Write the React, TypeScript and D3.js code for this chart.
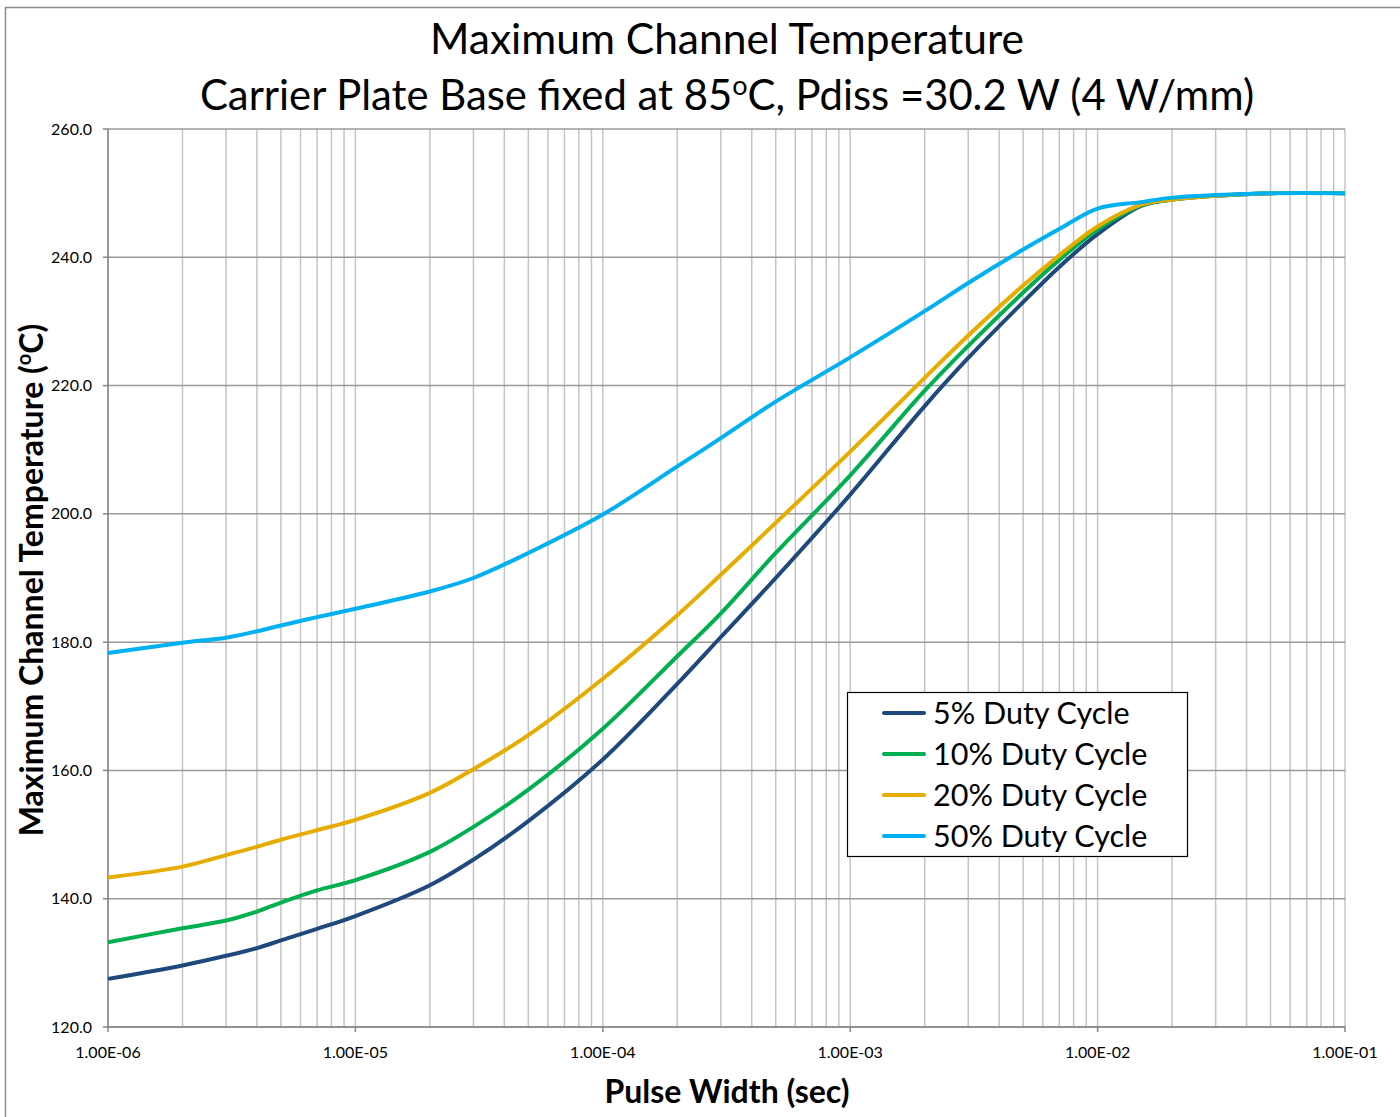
import React from "react";
import * as d3 from "d3";

const pulseWidths = [1e-6, 2e-6, 3e-6, 4e-6, 5e-6, 7e-6, 1e-5, 2e-5, 3e-5, 5e-5, 1e-4, 2e-4, 3e-4, 5e-4, 1e-3, 2e-3, 3e-3, 5e-3, 7e-3, 1e-2, 1.5e-2, 2e-2, 3e-2, 5e-2, 1e-1];

const duty5 = [127.5, 129.6, 131.1, 132.3, 133.5, 135.3, 137.3, 142.1, 146.1, 152.1, 161.7, 173.5, 180.8, 190.0, 203.0, 216.8, 224.3, 233.0, 238.5, 243.6, 248.0, 249.0, 249.6, 250.0, 250.0];
const duty10 = [133.2, 135.4, 136.6, 138.0, 139.4, 141.3, 142.9, 147.3, 151.2, 157.0, 166.5, 177.8, 184.5, 193.9, 206.0, 219.2, 226.2, 234.5, 239.6, 244.3, 248.1, 249.0, 249.6, 250.0, 250.0];
const duty20 = [143.3, 145.0, 146.8, 148.1, 149.2, 150.7, 152.3, 156.5, 160.2, 165.5, 174.3, 184.2, 190.5, 198.6, 209.7, 221.2, 227.8, 235.6, 240.3, 244.8, 248.2, 249.0, 249.6, 250.0, 250.0];
const duty50 = [178.3, 179.9, 180.7, 181.7, 182.6, 183.9, 185.2, 187.9, 190.0, 193.9, 199.9, 207.4, 211.8, 217.5, 224.4, 231.6, 236.0, 241.2, 244.4, 247.6, 248.6, 249.3, 249.7, 250.0, 250.0];

const seriesNames = ["5% Duty Cycle", "10% Duty Cycle", "20% Duty Cycle", "50% Duty Cycle"];
const seriesColors = ["#1F497D", "#00B050", "#E6AC00", "#00B0F0"];
const seriesValues = [duty5, duty10, duty20, duty50];

const yTicks = [120, 140, 160, 180, 200, 220, 240, 260];
const xTickLabels = ["1.00E-06", "1.00E-05", "1.00E-04", "1.00E-03", "1.00E-02", "1.00E-01"];
const xDecades = [1e-6, 1e-5, 1e-4, 1e-3, 1e-2, 1e-1];

const W = 1400;
const H = 1117;
const M = { left: 108, right: 1345, top: 129, bottom: 1027 };
const FONT = "Lato, 'Open Sans', sans-serif";

export default function App() {
  const x = d3.scaleLog().domain([1e-6, 1e-1]).range([M.left, M.right]);
  const y = d3.scaleLinear().domain([120, 260]).range([M.bottom, M.top]);

  const minor: number[] = [];
  for (let e = -6; e < -1; e++) {
    for (let k = 2; k <= 9; k++) minor.push(k * Math.pow(10, e));
  }

  const line = d3
    .line<[number, number]>()
    .x((d) => x(d[0]))
    .y((d) => y(d[1]))
    .curve(d3.curveCatmullRom.alpha(0.5));

  const legX = 847;
  const legY = 692;
  const legW = 340;
  const legH = 164;
  const rowH = 41;

  return (
    <svg width={W} height={H} style={{ position: "absolute", left: 0, top: 0, background: "#fff" }} fontFamily={FONT}>
      <rect x={0} y={0} width={W} height={H} fill="#fff" />
      <rect x={5.5} y={7.5} width={W + 10} height={H + 10} fill="none" stroke="#8c8c8c" strokeWidth={1.5} />

      {minor.map((v, i) => (
        <line key={"mn" + i} x1={x(v)} x2={x(v)} y1={M.top} y2={M.bottom} stroke="#c4c4c4" strokeWidth={1.5} />
      ))}
      {xDecades.map((v, i) => (
        <line key={"mj" + i} x1={x(v)} x2={x(v)} y1={M.top} y2={M.bottom} stroke="#c4c4c4" strokeWidth={1.5} />
      ))}
      {yTicks.map((v) => (
        <line key={"h" + v} x1={M.left} x2={M.right} y1={y(v)} y2={y(v)} stroke="#999" strokeWidth={1.5} />
      ))}

      <line x1={M.left} x2={M.left} y1={M.top} y2={M.bottom} stroke="#868686" strokeWidth={1.5} />
      <line x1={M.left} x2={M.right} y1={M.bottom} y2={M.bottom} stroke="#868686" strokeWidth={1.5} />
      {yTicks.map((v) => (
        <line key={"yt" + v} x1={M.left - 5} x2={M.left} y1={y(v)} y2={y(v)} stroke="#868686" strokeWidth={1.5} />
      ))}
      {xDecades.map((v, i) => (
        <line key={"xt" + i} x1={x(v)} x2={x(v)} y1={M.bottom} y2={M.bottom + 5} stroke="#868686" strokeWidth={1.5} />
      ))}

      {yTicks.map((v) => (
        <text key={"yl" + v} x={92} y={y(v)} dy="0.35em" textAnchor="end" fontSize={16} fill="#000">
          {v.toFixed(1)}
        </text>
      ))}
      {xDecades.map((v, i) => (
        <text key={"xl" + i} x={x(v)} y={1058} textAnchor="middle" fontSize={16} fill="#000">
          {xTickLabels[i]}
        </text>
      ))}

      {seriesValues.map((vals, si) => (
        <path
          key={"s" + si}
          d={line(pulseWidths.map((p, i) => [p, vals[i]] as [number, number])) || ""}
          fill="none"
          stroke={seriesColors[si]}
          strokeWidth={4}
          strokeLinejoin="round"
        />
      ))}

      <text x={727} y={54} textAnchor="middle" fontSize={42.5} fill="#000">
        Maximum Channel Temperature
      </text>
      <text x={727} y={110} textAnchor="middle" fontSize={41.8} fill="#000">
        Carrier Plate Base fixed at 85<tspan fontSize={27} dy={-15}>o</tspan>
        <tspan dy={15}>C, Pdiss =30.2 W (4 W/mm)</tspan>
      </text>
      <text x={727} y={1103} textAnchor="middle" fontSize={32} fontWeight="bold" fill="#000">
        Pulse Width (sec)
      </text>
      <text transform="translate(43,580) rotate(-90)" textAnchor="middle" fontSize={32} fontWeight="bold" fill="#000">
        Maximum Channel Temperature (<tspan fontSize={20} dy={-12}>o</tspan>
        <tspan dy={12}>C)</tspan>
      </text>

      <rect x={legX + 0.5} y={legY + 0.5} width={legW} height={legH} fill="#fff" stroke="#000" strokeWidth={1.2} />
      {seriesNames.map((n, i) => (
        <g key={"lg" + i}>
          <line x1={884} x2={924} y1={legY + 21 + i * rowH} y2={legY + 21 + i * rowH} stroke={seriesColors[i]} strokeWidth={4} strokeLinecap="round" />
          <text x={933} y={legY + 21 + i * rowH} dy="0.35em" fontSize={30.5} fill="#000">
            {n}
          </text>
        </g>
      ))}
    </svg>
  );
}
